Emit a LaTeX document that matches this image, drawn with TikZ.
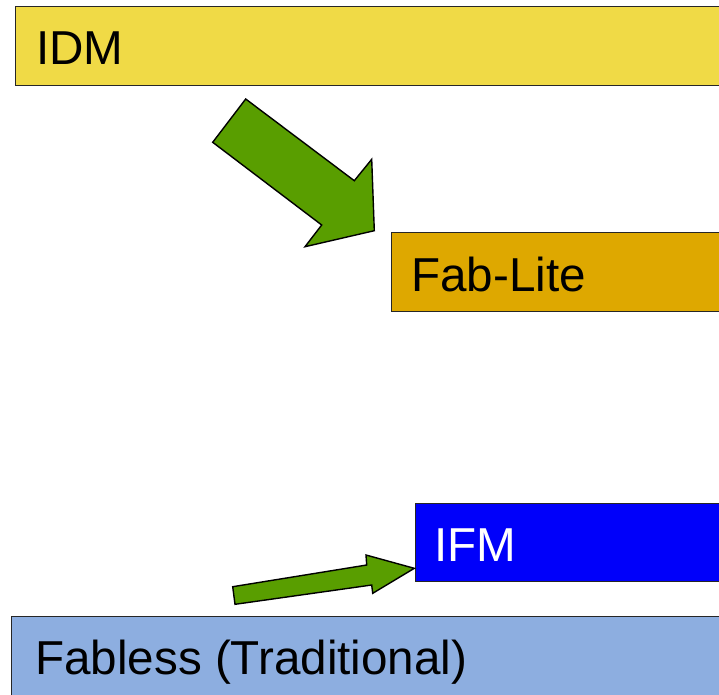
\documentclass[tikz,border=0pt]{standalone}
\usepackage{fontspec}
\setmainfont{Liberation Sans}
\definecolor{idmyellow}{RGB}{240,218,70}
\definecolor{liteorange}{RGB}{222,168,0}
\definecolor{ifmblue}{RGB}{0,0,250}
\definecolor{fablessblue}{RGB}{141,174,224}
\definecolor{arrowgreen}{RGB}{89,158,0}
\tikzset{
  tier/.style={draw=black!85, line width=1.2pt, rectangle, anchor=north west,
    minimum width=340pt, inner sep=0pt},
  tierlabel/.style={anchor=base west, inner sep=0pt, font=\fontsize{47.6}{48}\selectfont},
  blockarrow/.style={fill=arrowgreen, draw=black, line width=1.4pt, line join=miter}
}
\begin{document}
\begin{tikzpicture}[x=1pt, y=-1pt]
  \useasboundingbox (0,0) rectangle (719,694);
  \clip (0,0) rectangle (719,694);

  % the four tiers, each running off the right edge
  \node[tier, fill=idmyellow,   minimum width=720pt, minimum height=79pt] (idm)     at (15,6) {};
  \node[tier, fill=liteorange,  minimum width=340pt, minimum height=79pt] (fablite) at (391,232) {};
  \node[tier, fill=ifmblue,     minimum width=320pt, minimum height=78pt] (ifm)     at (415,503) {};
  \node[tier, fill=fablessblue, minimum width=720pt, minimum height=90pt] (fabless) at (11,616) {};

  \node[tierlabel] (idmtext)     at (36,64)   {IDM};
  \node[tierlabel] (fablitetext) at (411,291) {Fab-Lite};
  \node[tierlabel, text=white] (ifmtext) at (434,561) {IFM};
  \node[tierlabel] (fablesstext) at (35,674)  {Fabless (Traditional)};

  % block arrow from IDM down towards Fab-Lite
  \draw[blockarrow] (245.7,99) -- (354.3,180.7) -- (371.7,159.3) -- (374.3,230.7)
    -- (305,246.7) -- (321.7,225) -- (212.7,142.3) -- cycle;

  % block arrow from Fabless up towards IFM
  \draw[blockarrow] (232.7,586.7) -- (366.7,565) -- (366,555) -- (414.3,568.3)
    -- (372.7,593.3) -- (371.7,585) -- (235,604.3) -- cycle;
\end{tikzpicture}
\end{document}
